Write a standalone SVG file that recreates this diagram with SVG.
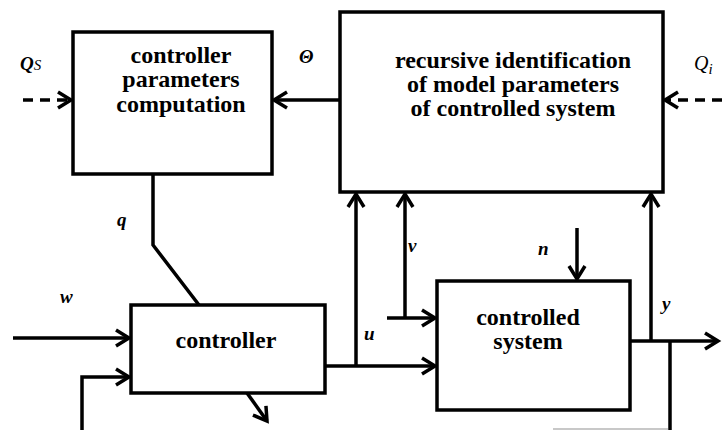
<svg xmlns="http://www.w3.org/2000/svg" width="722" height="430" viewBox="0 0 722 430">
  <style>
    .box { fill: #fff; stroke: #000; stroke-width: 3.5; }
    .title { font-family: 'Liberation Serif', 'DejaVu Serif', serif; font-weight: 700; font-size: 24px; text-anchor: middle; fill: #000; }
    .sig { font-family: 'Liberation Serif', 'DejaVu Serif', serif; font-weight: 700; font-style: italic; font-size: 19px; fill: #000; }
    .wire { fill: none; stroke: #000; stroke-width: 3.5; stroke-linejoin: miter; }
    .dash { stroke-dasharray: 10 7; }
    .arr { marker-end: url(#head); }
  </style>
  <defs>
    <marker id="head" markerUnits="userSpaceOnUse" markerWidth="20" markerHeight="20" viewBox="-16 -10 20 20" refX="0" refY="0" orient="auto" overflow="visible">
      <path d="M-13,-8 L0,0 L-13,8" fill="none" stroke="#000" stroke-width="3.5" stroke-linecap="butt" stroke-linejoin="miter"/>
    </marker>
  </defs>
  <rect width="722" height="430" fill="#fff"/>

  <!-- connectors -->
  <g id="connectors">
    <!-- Qs dashed input -->
    <line class="wire dash arr" x1="23" y1="100" x2="71" y2="100"/>
    <!-- Theta: identification -> parameters computation -->
    <line class="wire arr" x1="340" y1="100" x2="274" y2="100"/>
    <!-- Qi dashed input -->
    <line class="wire dash arr" x1="722" y1="100" x2="665" y2="100"/>
    <!-- q: computation -> controller -->
    <polyline class="wire" points="153,174 153,245 199,305"/>
    <!-- w input -->
    <line class="wire arr" x1="13" y1="338" x2="129" y2="338"/>
    <!-- feedback input -->
    <polyline class="wire arr" points="82,430 82,377 129,377"/>
    <!-- controller lower output -->
    <line class="wire arr" x1="247" y1="393" x2="267" y2="421"/>
    <!-- u: controller -> controlled system -->
    <line class="wire arr" x1="325" y1="366" x2="435" y2="366"/>
    <!-- u tap to identification -->
    <line class="wire arr" x1="356" y1="366" x2="356" y2="194"/>
    <!-- v -->
    <polyline class="wire arr" points="405,318 405,194"/>
    <line class="wire arr" x1="387" y1="318" x2="435" y2="318"/>
    <!-- n disturbance -->
    <line class="wire arr" x1="577" y1="228" x2="577" y2="279"/>
    <!-- y output -->
    <line class="wire arr" x1="630" y1="341" x2="718" y2="341"/>
    <line class="wire arr" x1="651" y1="341" x2="651" y2="194"/>
    <line class="wire" x1="670" y1="341" x2="670" y2="430"/>
    <line x1="553" y1="429" x2="668" y2="429" stroke="#c8c8c8" stroke-width="2"/>
  </g>

  <g id="param-computation">
    <rect class="box" x="73" y="32" width="199" height="142"/>
    <text class="title" x="181" y="63">controller</text>
    <text class="title" x="181" y="87">parameters</text>
    <text class="title" x="181" y="112">computation</text>
  </g>

  <g id="identification">
    <rect class="box" x="340" y="12" width="323" height="180"/>
    <text class="title" x="513" y="68">recursive identification</text>
    <text class="title" x="513" y="92">of model parameters</text>
    <text class="title" x="513" y="116">of controlled system</text>
  </g>

  <g id="controller">
    <rect class="box" x="131" y="305" width="194" height="88"/>
    <text class="title" x="226" y="348">controller</text>
  </g>

  <g id="controlled-system">
    <rect class="box" x="437" y="281" width="193" height="129"/>
    <text class="title" x="528" y="325">controlled</text>
    <text class="title" x="528" y="349">system</text>
  </g>

  <!-- signal labels -->
  <g id="labels">
    <text class="sig" x="20" y="70">Q<tspan font-weight="400" font-size="15">S</tspan></text>
    <text class="sig" x="299" y="63">Θ</text>
    <text x="694" y="70" font-family="'Liberation Serif', 'DejaVu Serif', serif" font-style="italic" font-size="20">Q<tspan font-size="15" dy="4">i</tspan></text>
    <text class="sig" x="117" y="226">q</text>
    <text class="sig" x="60" y="303">w</text>
    <text class="sig" x="364" y="340">u</text>
    <text class="sig" x="408" y="252">v</text>
    <text class="sig" x="538" y="255">n</text>
    <text class="sig" x="662" y="310">y</text>
  </g>
</svg>
